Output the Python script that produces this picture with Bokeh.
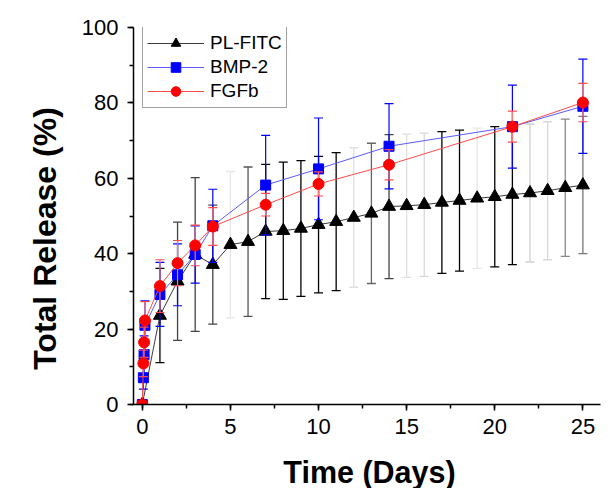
import math
from bokeh.plotting import figure
from bokeh.models import (Range1d, SingleIntervalTicker, Legend, LegendItem, Label,
                          ColumnDataSource)
from bokeh.embed import file_html
from bokeh.resources import INLINE

# ---- data ----
pl_x = list(range(26))
pl_y = [0, 23.6, 32.7, 39.8, 37.1, 42.4, 43.2, 45.9, 46.1, 46.7, 47.7, 48.5, 49.6,
        50.7, 52.5, 52.7, 53.0, 53.6, 54.1, 54.7, 55.1, 55.7, 56.1, 56.7, 57.5, 58.2]
pl_err = [0, 12.5, 15.7, 20.4, 15.8, 19.4, 19.8, 17.8, 18.2, 18.0, 18.1, 18.3, 18.5,
          18.6, 19.1, 19.0, 19.0, 18.8, 18.7, 18.6, 18.6, 18.6, 18.3, 18.3, 18.2, 18.2]

gf_x = [0, 0.06, 0.1, 0.15, 1, 2, 3, 4, 7, 10, 14, 21, 25]
bmp_y = [0, 7.1, 13.2, 21.0, 29.2, 34.4, 39.8, 47.4, 58.2, 62.5, 68.5, 73.7, 79.1]
bmp_err = [0, 3.0, 5.0, 6.5, 8.5, 8.2, 7.6, 9.7, 13.2, 13.5, 11.3, 11.0, 12.5]
fgf_y = [0, 10.9, 16.5, 22.3, 31.4, 37.5, 42.2, 47.2, 53.0, 58.5, 63.6, 73.7, 80.1]
fgf_err = [0, 3.5, 4.0, 5.0, 7.0, 6.0, 5.4, 5.0, 3.0, 3.2, 4.0, 4.1, 5.1]

series_names = ["PL-FITC", "BMP-2", "FGFb"]
x_label = "Time (Days)"
y_label = "Total Release (%)"
x_ticks_interval = 5
y_ticks_interval = 20

# ---- styles ----
pl_bar_colors = ["#000000", "#000000", "#444444", "#444444", "#444444", "#e6e6e6",
                 "#555555", "#000000", "#000000", "#000000", "#000000", "#000000",
                 "#e0e0e0", "#666666", "#444444", "#e0e0e0", "#d8d8d8", "#000000",
                 "#000000", "#e6e6e6", "#000000", "#000000", "#d0d0d0", "#d8d8d8",
                 "#888888", "#777777"]
FONT = "Liberation Sans"

p = figure(width=610, height=488, output_backend="svg", toolbar_location=None,
           x_range=Range1d(-0.5, 26), y_range=Range1d(0, 100),
           min_border_left=133, min_border_right=10, min_border_top=27,
           min_border_bottom=84)
p.outline_line_color = None
p.xgrid.visible = False
p.ygrid.visible = False
p.background_fill_color = "white"
p.border_fill_color = "white"


def errbars(x, y, e, color, cap_color=None, width=1):
    lo = [a - b for a, b in zip(y, e)]
    hi = [a + b for a, b in zip(y, e)]
    cc = cap_color if cap_color is not None else color
    src = ColumnDataSource(dict(x=x, lo=lo, hi=hi,
                                c=color if isinstance(color, list) else [color] * len(x),
                                cc=cc if isinstance(cc, list) else [cc] * len(x)))
    p.segment(x0="x", y0="lo", x1="x", y1="hi", line_color="c", line_width=width, source=src)
    p.scatter(x="x", y="lo", marker="dash", size=9, line_color="cc", line_width=width, source=src)
    p.scatter(x="x", y="hi", marker="dash", size=9, line_color="cc", line_width=width, source=src)


# PL-FITC
errbars(pl_x, pl_y, pl_err, pl_bar_colors, width=1.3)
l1 = p.line(pl_x, pl_y, line_color="#3a3a3a", line_width=1)
m1 = p.scatter(pl_x, pl_y, marker="triangle", size=13, fill_color="black", line_color="black")

# BMP-2
errbars(gf_x, bmp_y, bmp_err, "#0000ff", width=1.2)
l2 = p.line(gf_x, bmp_y, line_color="#5a5aff", line_width=1)
m2 = p.scatter(gf_x, bmp_y, marker="square", size=10, fill_color="#0000ff", line_color="#0000ff")

# FGFb
errbars(gf_x, fgf_y, fgf_err, "#ff7777", cap_color="#ff4a4a", width=1.2)
l3 = p.line(gf_x, fgf_y, line_color="#ff4a4a", line_width=1)
m3 = p.scatter(gf_x, fgf_y, marker="circle", size=11, fill_color="#ff0000", line_color="#ff0000")

# axes
p.xaxis.ticker = SingleIntervalTicker(interval=x_ticks_interval, num_minor_ticks=2)
p.yaxis.ticker = SingleIntervalTicker(interval=y_ticks_interval, num_minor_ticks=2)
for ax in (p.xaxis[0], p.yaxis[0]):
    ax.axis_line_width = 1.5
    ax.axis_line_color = "black"
    ax.major_tick_line_color = "black"
    ax.minor_tick_line_color = "black"
    ax.major_tick_line_width = 1.5
    ax.minor_tick_line_width = 1.5
    ax.major_tick_in = 0
    ax.major_tick_out = 6
    ax.minor_tick_in = 0
    ax.minor_tick_out = 4
    ax.major_label_text_font = FONT
    ax.major_label_text_font_size = "22px"
    ax.major_label_text_color = "black"
p.yaxis.major_label_standoff = 9
p.xaxis.major_label_standoff = 8

# axis titles as labels in the side panels (screen units)
p.add_layout(Label(x=236, y=-1, x_units="screen", y_units="screen", text=x_label,
                   text_align="center", text_baseline="alphabetic",
                   text_font=FONT, text_font_size="30.5px", text_font_style="bold",
                   text_color="black"), "below")
p.add_layout(Label(x=2, y=166, x_units="screen", y_units="screen", text=y_label,
                   angle=math.pi / 2, text_align="center", text_baseline="alphabetic",
                   text_font=FONT, text_font_size="32px", text_font_style="bold",
                   text_color="black"), "left")

legend = Legend(items=[LegendItem(label=series_names[0], renderers=[l1, m1]),
                       LegendItem(label=series_names[1], renderers=[l2, m2]),
                       LegendItem(label=series_names[2], renderers=[l3, m3])],
                location=(9, 296))
legend.label_text_font = FONT
legend.label_text_font_size = "19px"
legend.label_text_color = "black"
legend.glyph_width = 57
legend.glyph_height = 24
legend.label_height = 24
legend.label_standoff = 6
legend.spacing = 0
legend.padding = 4
legend.border_line_color = "#444444"
legend.border_line_width = 1
legend.background_fill_color = "white"
legend.background_fill_alpha = 1
p.add_layout(legend, "center")

open("out.html", "w").write(file_html(p, INLINE))
